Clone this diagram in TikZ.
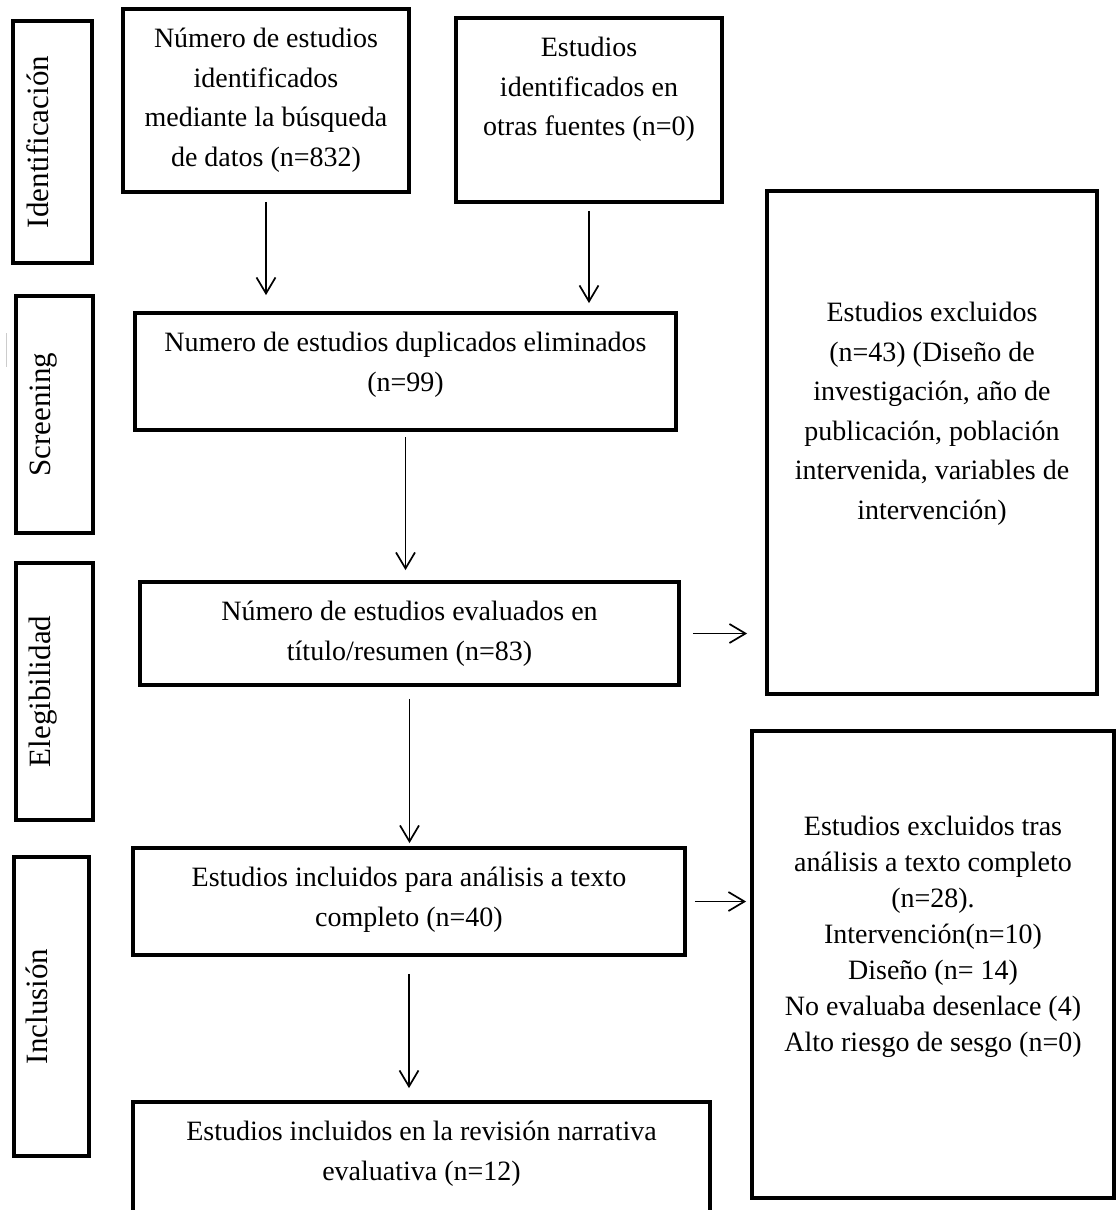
\documentclass[tikz,border=0pt]{standalone}
\usepackage{fontspec}
\setmainfont{Liberation Serif}
\usetikzlibrary{calc, fit, positioning, arrows.meta}

\begin{document}
\begin{tikzpicture}[x=1pt, y=-1pt,
  box/.style={draw, line width=3.8pt, inner sep=0pt},
  txt/.style={inner sep=0pt, align=center, font=\fontsize{28}{39.5}\selectfont},
  sidetxt/.style={anchor=base, rotate=90, inner sep=0pt, font=\fontsize{31}{36}\selectfont},
  arr/.style={line width=1.7pt, -{Straight Barb[length=16pt, width=19pt]}}]

% Page
\path[use as bounding box, fill=white] (0,0) rectangle (1116,1210);

% Text offset from box top
\newcommand{\txtoff}{21pt}

% Stage boxes
\node[box, fit={(13,21) (92,263)}] (ident) {};
\node[box, fit={(16,296) (93,533)}] (screen) {};
\node[box, fit={(16,563) (93,820)}] (elig) {};
\node[box, fit={(14,857) (89,1156)}] (incl) {};

\node[sidetxt] (identT) at ($(ident.center)+(-4,0)$) {Identificación};
\node[sidetxt] (screenT) at ($(screen.center)+(-4,0)$) {Screening};
\node[sidetxt] (eligT) at ($(elig.center)+(-4,0)$) {Elegibilidad};
\node[sidetxt] (inclT) at ($(incl.center)+(-4,0)$) {Inclusión};

% stray mark
\draw[gray!40, line width=1pt] (6,333) -- (6,367);

% Flow boxes
\node[box, fit={(123,9) (409,192)}] (busq) {};
\node[box, fit={(456,18) (722,202)}] (otras) {};
\node[box, fit={(135,313) (676,430)}] (dup) {};
\node[box, fit={(140,582) (679,685)}] (eval) {};
\node[box, fit={(767,191) (1097,694)}] (excl) {};
\node[box, fit={(133,848) (685,955)}] (compl) {};
\node[box, fit={(752,731) (1114,1198)}] (tras) {};
\node[box, fit={(133,1102) (710,1216)}] (rev) {};

\node[txt, below=\txtoff of busq.north] (busqT)
  {Número de estudios\\identificados\\mediante la búsqueda\\de datos (n=832)};
\node[txt, below=\txtoff of otras.north] (otrasT)
  {Estudios\\identificados en\\otras fuentes (n=0)};
\node[txt, below=\txtoff of dup.north] (dupT)
  {Numero de estudios duplicados eliminados\\(n=99)};
\node[txt, below=\txtoff of eval.north] (evalT)
  {Número de estudios evaluados en\\título/resumen (n=83)};
\node[txt, below=113pt of excl.north] (exclT)
  {Estudios excluidos\\(n=43) (Diseño de\\investigación, año de\\publicación, población\\intervenida, variables de\\intervención)};
\node[txt, below=\txtoff of compl.north] (complT)
  {Estudios incluidos para análisis a texto\\completo (n=40)};
\node[txt, below=87pt of tras.north, font=\fontsize{28}{36}\selectfont] (trasT)
  {Estudios excluidos tras\\análisis a texto completo\\(n=28).\\Intervención(n=10)\\Diseño (n= 14)\\No evaluaba desenlace (4)\\Alto riesgo de sesgo (n=0)};
\node[txt, below=\txtoff of rev.north] (revT)
  {Estudios incluidos en la revisión narrativa\\evaluativa (n=12)};

% Arrows
\draw[arr, shorten <=8pt, shorten >=16pt] (busq.south) -- (busq.south |- dup.north);
\draw[arr, shorten <=7pt, shorten >=8pt] (otras.south) -- (otras.south |- dup.north);
\draw[arr, shorten <=5pt, shorten >=10pt] (dup.south) -- (dup.south |- eval.north);
\draw[arr, shorten <=12pt, shorten >=3pt] (eval.south) -- (eval.south |- compl.north);
\draw[arr, shorten <=17pt, shorten >=12pt] (compl.south) -- (compl.south |- rev.north);
\draw[arr, shorten <=12pt, shorten >=18pt] (eval.east) -- (eval.east -| excl.west);
\draw[arr, shorten <=8pt, shorten >=4pt] (compl.east) -- (compl.east -| tras.west);

\end{tikzpicture}
\end{document}
